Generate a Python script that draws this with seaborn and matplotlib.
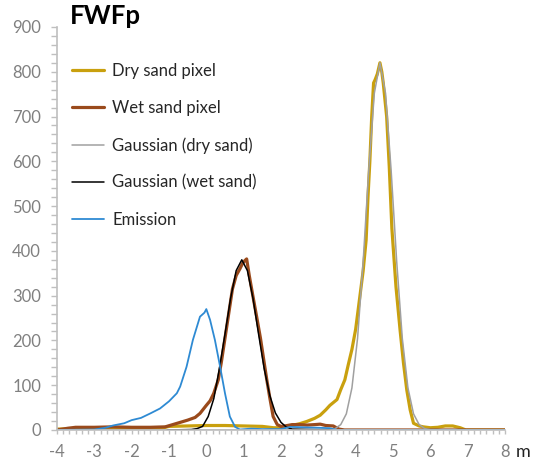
import matplotlib
matplotlib.use("Agg")
import matplotlib.pyplot as plt
from matplotlib.ticker import MultipleLocator
import seaborn as sns

sns.set_theme(style="white")
plt.rcParams['font.family'] = ['Lato', 'DejaVu Sans']
plt.rcParams['axes.unicode_minus'] = False

# Dry sand pixel
dry_x = [-4, -3, -2, -1.2, -1, -0.5, 0, 0.5, 1, 1.5, 1.8, 2, 2.33, 2.5, 2.69, 2.9, 3.05, 3.2, 3.31,
         3.5, 3.6, 3.71, 3.8, 3.9, 4.0, 4.1, 4.2, 4.28, 4.33, 4.38, 4.43, 4.48, 4.52, 4.58, 4.65,
         4.7, 4.74, 4.83, 4.9, 4.97, 5.08, 5.19, 5.28, 5.37, 5.46, 5.55, 5.7, 5.81, 6.0, 6.2, 6.4,
         6.6, 6.8, 6.95, 8]
dry_y = [2, 3, 3, 4, 8, 9, 10, 10, 9, 8, 5, 5, 11, 14, 19, 26, 33, 45, 55,
         68, 90, 112, 145, 180, 225, 290, 355, 424, 520, 600, 700, 775, 782, 795, 820,
         800, 774, 700, 588, 450, 320, 223, 150, 89, 45, 15, 9, 7, 5, 6, 9,
         9, 5, 0, 0]

# Wet sand pixel
wet_x = [-4, -3.7, -3.5, -3, -2.5, -2, -1.5, -1.1, -0.9, -0.7, -0.5, -0.3, -0.17, 0, 0.1, 0.2,
         0.32, 0.4, 0.5, 0.6, 0.7, 0.8, 0.9, 0.97, 1.03, 1.08, 1.15, 1.25, 1.35, 1.45, 1.55,
         1.62, 1.7, 1.79, 1.9, 2.0, 2.1, 2.3, 2.5, 2.7, 2.9, 3.05, 3.2, 3.4, 3.55, 3.7, 8]
wet_y = [0, 4, 6, 6, 7, 6, 6, 7, 12, 17, 22, 28, 37, 55, 65, 82,
         112, 150, 205, 260, 315, 345, 360, 372, 378, 382, 345, 298, 252, 205, 150,
         112, 72, 30, 12, 8, 9, 12, 12, 11, 12, 13, 10, 9, 2, 0, 0]

# Gaussian (dry sand)
gdry_x = [-4, 2.5, 3.3, 3.45, 3.6, 3.75, 3.9, 4.05, 4.2, 4.35, 4.5, 4.65, 4.8, 4.95, 5.1, 5.25,
          5.4, 5.55, 5.7, 5.85, 6.0, 8]
gdry_y = [0, 0, 1, 3, 12, 36, 94, 204, 375, 580, 752, 820, 752, 580, 375, 204,
          94, 36, 12, 3, 1, 0]

# Gaussian (wet sand)
gwet_x = [-1.05, -0.4, -0.25, -0.1, 0.05, 0.2, 0.35, 0.5, 0.65, 0.8, 0.95, 1.1, 1.25, 1.4,
          1.55, 1.7, 1.85, 2.0, 2.15, 2.3, 3.5]
gwet_y = [0, 1, 3, 8, 30, 70, 137, 214, 294, 356, 380, 356, 294, 214,
          137, 77, 38, 17, 6, 2, 0]

# Emission
em_x = [-4, -3, -2.7, -2.5, -2.2, -2, -1.75, -1.5, -1.24, -1, -0.79, -0.7, -0.53, -0.36, -0.17,
        -0.05, 0, 0.1, 0.23, 0.37, 0.5, 0.63, 0.77, 0.9, 1.2, 1.5, 2.0, 2.25, 2.6, 3.0, 3.3,
        3.5, 8]
em_y = [0, 1, 5, 10, 15, 22, 27, 37, 48, 64, 82, 97, 141, 201, 253,
        262, 270, 246, 201, 141, 82, 30, 7, 1, 3, 2, 2, 7, 6, 5, 4,
        0, 0]

fig = plt.figure(figsize=(5.34, 4.65), dpi=100)
ax = fig.add_axes([0.1067, 0.0753, 0.839, 0.8667])

sns.lineplot(x=dry_x, y=dry_y, sort=False, ax=ax, color="#C9A00E", lw=2.3, label="Dry sand pixel")
sns.lineplot(x=wet_x, y=wet_y, sort=False, ax=ax, color="#9A4A1C", lw=2.3, label="Wet sand pixel")
sns.lineplot(x=gdry_x, y=gdry_y, sort=False, ax=ax, color="#A0A0A0", lw=1.1, label="Gaussian (dry sand)")
sns.lineplot(x=gwet_x, y=gwet_y, sort=False, ax=ax, color="#000000", lw=1.1, label="Gaussian (wet sand)")
sns.lineplot(x=em_x, y=em_y, sort=False, ax=ax, color="#2E8AD3", lw=1.3, label="Emission")

ax.set_xlim(-4, 8)
ax.set_ylim(0, 900)
ax.xaxis.set_major_locator(MultipleLocator(1))
ax.xaxis.set_minor_locator(MultipleLocator(1 / 6))
ax.yaxis.set_major_locator(MultipleLocator(100))
ax.yaxis.set_minor_locator(MultipleLocator(20))

for s in ["top", "right"]:
    ax.spines[s].set_visible(False)
for s in ["left", "bottom"]:
    ax.spines[s].set_color("#BFBFBF")
    ax.spines[s].set_linewidth(1.2)

ax.tick_params(axis="both", which="both", colors="#BFBFBF", labelcolor="#808080",
               labelsize=12, direction="out")
ax.tick_params(axis="y", which="both", length=4.5, width=1, left=True, pad=7)
ax.tick_params(axis="x", which="both", length=3, width=1, bottom=True, pad=7)
ax.set_xlabel("")
ax.set_ylabel("")

fig.text(0.131, 0.966, "FWFp", fontsize=18.5, fontweight="bold", color="#000000",
         ha="left", va="center")
fig.text(0.979, 0.027, "m", fontsize=13, color="#222222", ha="center", va="center")

ax.legend(loc="upper left", bbox_to_anchor=(72 / 534, 1 - 63 / 465),
          bbox_transform=fig.transFigure, frameon=False, fontsize=12,
          labelspacing=1.26, handlelength=1.9, handletextpad=0.5,
          borderpad=0, borderaxespad=0, labelcolor="#262626")

fig.savefig("out.png", dpi=100)
